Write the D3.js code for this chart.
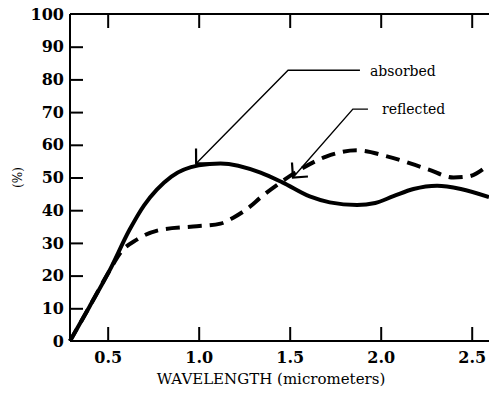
<!DOCTYPE html>
<html>
<head>
<meta charset="utf-8">
<script src="https://cdn.jsdelivr.net/npm/d3@7"></script>
<style>
  html, body { margin: 0; padding: 0; background: #fff; }
  svg { display: block; }
</style>
</head>
<body>
<svg id="chart" width="489" height="398"></svg>
<script>
// ---- data ----
const xTicks = [0.5, 1.0, 1.5, 2.0, 2.5];
const xTickLabels = ["0.5", "1.0", "1.5", "2.0", "2.5"];
const yTicks = [0, 10, 20, 30, 40, 50, 60, 70, 80, 90, 100];
const yTickLabels = ["0", "10", "20", "30", "40", "50", "60", "70", "80", "90", "100"];

const absorbedX = [0.293, 0.40, 0.51, 0.62, 0.70, 0.77, 0.85, 1.00, 1.12, 1.34, 1.46, 1.61, 1.72, 1.87, 1.97, 2.07, 2.18, 2.31, 2.44, 2.595];
const absorbedY = [0, 10.5, 21.5, 34, 41.5, 46.3, 50.3, 53.7, 54.3, 51.5, 48.5, 44.2, 42.4, 41.6, 42.2, 44.3, 46.5, 47.5, 46.5, 44.0];

const reflectedX = [0.293, 0.40, 0.51, 0.57, 0.66, 0.79, 0.97, 1.12, 1.19, 1.28, 1.34, 1.45, 1.56, 1.70, 1.87, 2.04, 2.26, 2.40, 2.48, 2.595];
const reflectedY = [0, 10.5, 21.5, 27, 31, 34, 35, 35.9, 37.7, 41, 43.9, 48.5, 52.5, 56.4, 58.3, 56.4, 52.5, 50, 50.3, 54];

// annotation leader lines in data units: [tip, elbow, end of horizontal], label anchor
const annotNames = ["absorbed", "reflected"];
const annotTipX = [0.986, 1.518];
const annotTipY = [54.3, 50.0];
const annotElbowX = [1.491, 1.847];
const annotElbowY = [82.8, 70.9];
const annotEndX = [1.886, 1.93];
const annotLabelX = [1.941, 2.007];
const annotLabelY = [81.0, 69.3];

const xTitle = "WAVELENGTH (micrometers)";
const xTitleCenter = 1.397;
const yTitle = "(%)";

const xDomain = [0.293, 2.595];
const yDomain = [0, 100];

// ---- drawing ----
const svg = d3.select("#chart");
const mLeft = 70, mRight = 489, mTop = 14, mBottom = 341;
const x = d3.scaleLinear().domain(xDomain).range([mLeft, mRight]);
const y = d3.scaleLinear().domain(yDomain).range([mBottom, mTop]);

const serif = "'DejaVu Serif', 'Liberation Serif', serif";

// frame lines (left, bottom, top)
const frame = svg.append("g").attr("stroke", "#000").attr("stroke-width", 2).attr("fill", "none");
frame.append("line").attr("x1", x(xDomain[0])).attr("x2", x(xDomain[0])).attr("y1", y(100)).attr("y2", y(0));
frame.append("line").attr("x1", x(xDomain[0])).attr("x2", x(xDomain[1])).attr("y1", y(0)).attr("y2", y(0));
frame.append("line").attr("x1", x(xDomain[0])).attr("x2", x(xDomain[1])).attr("y1", y(100)).attr("y2", y(100));

// left axis: inward ticks, bold labels
const yAxis = d3.axisLeft(y).tickValues(yTicks).tickSize(0).tickPadding(6)
  .tickFormat((d, i) => yTickLabels[i]);
const gy = svg.append("g").attr("transform", `translate(${mLeft},0)`).call(yAxis);
gy.select(".domain").remove();
gy.selectAll("text").attr("font-family", serif).attr("font-weight", "bold").attr("font-size", 16).attr("fill", "#000");
gy.selectAll(".tick").filter(d => d > 0 && d < 100).append("line")
  .attr("x1", 0).attr("x2", 13).attr("stroke", "#000").attr("stroke-width", 2);

// bottom axis: inward ticks
const xAxis = d3.axisBottom(x).tickValues(xTicks).tickSize(0).tickPadding(11)
  .tickFormat((d, i) => xTickLabels[i]);
const gx = svg.append("g").attr("transform", `translate(0,${mBottom})`).call(xAxis);
gx.select(".domain").remove();
gx.selectAll("text").attr("font-family", serif).attr("font-weight", "bold").attr("font-size", 16).attr("fill", "#000");
gx.selectAll(".tick").append("line").attr("y1", 0).attr("y2", -14).attr("stroke", "#000").attr("stroke-width", 2);

// top axis ticks (inward, no labels)
const xTop = d3.axisTop(x).tickValues(xTicks).tickSize(0).tickFormat("");
const gt = svg.append("g").attr("transform", `translate(0,${mTop})`).call(xTop);
gt.select(".domain").remove();
gt.selectAll(".tick").append("line").attr("y1", 0).attr("y2", 14).attr("stroke", "#000").attr("stroke-width", 2);

// axis titles
svg.append("text").attr("x", x(xTitleCenter)).attr("y", 384)
  .attr("text-anchor", "middle").attr("font-family", serif).attr("font-size", 15)
  .attr("fill", "#000").text(xTitle);
svg.append("text").attr("transform", `translate(22,${y(50)}) rotate(-90)`)
  .attr("text-anchor", "middle").attr("font-family", serif).attr("font-size", 12)
  .attr("fill", "#000").text(yTitle);

// curves
const line = d3.line().x(d => x(d[0])).y(d => y(d[1])).curve(d3.curveMonotoneX);
const reflected = reflectedX.map((v, i) => [v, reflectedY[i]]);
const absorbed = absorbedX.map((v, i) => [v, absorbedY[i]]);

svg.append("path").datum(reflected).attr("d", line).attr("fill", "none")
  .attr("stroke", "#000").attr("stroke-width", 4).attr("stroke-dasharray", "14,8");
svg.append("path").datum(absorbed).attr("d", line).attr("fill", "none")
  .attr("stroke", "#000").attr("stroke-width", 4).attr("stroke-linejoin", "round");

// annotations
const ann = svg.append("g").attr("stroke", "#000").attr("stroke-width", 1.4).attr("fill", "none");
annotNames.forEach((name, i) => {
  const tx = x(annotTipX[i]), ty = y(annotTipY[i]);
  const ex = x(annotElbowX[i]), ey = y(annotElbowY[i]);
  const hx = x(annotEndX[i]);
  ann.append("polyline").attr("points", `${tx},${ty} ${ex},${ey} ${hx},${ey}`);
  const ang = Math.atan2(ey - ty, ex - tx);
  const L = 15, spread = Math.PI / 4;
  const a1 = ang - spread, a2 = ang + spread;
  ann.append("polyline").attr("stroke-width", 2.2)
    .attr("points", `${tx + L * Math.cos(a1)},${ty + L * Math.sin(a1)} ${tx},${ty} ${tx + L * Math.cos(a2)},${ty + L * Math.sin(a2)}`);
  svg.append("text").attr("x", x(annotLabelX[i])).attr("y", y(annotLabelY[i]))
    .attr("font-family", serif).attr("font-size", 14).attr("fill", "#000").text(name);
});
</script>
</body>
</html>
